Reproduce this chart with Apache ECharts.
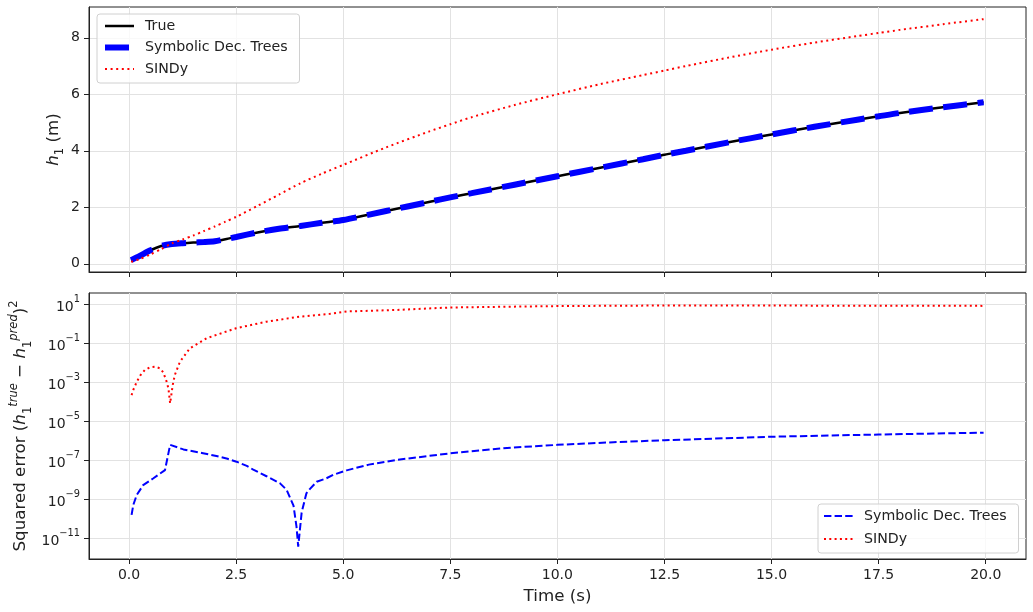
<!DOCTYPE html>
<html>
<head>
<meta charset="utf-8">
<script src="https://cdn.jsdelivr.net/npm/echarts@6/dist/echarts.min.js"></script>
<style>
html, body { margin: 0; padding: 0; background: #fff; }
#chart { width: 1033px; height: 612px; }
</style>
</head>
<body>
<div id="chart"></div>
<script>
// top panel: water level h1 (m)
const timeTop = [0.05, 0.25, 0.5, 0.75, 1.0, 1.25, 1.5, 1.75, 2.0, 2.25, 2.5, 3, 3.5, 4, 4.5, 5, 6, 7, 7.5, 8, 9, 10, 11, 12, 12.5, 13, 14, 15, 16, 17, 17.5, 18, 19, 19.95];
const hTrue = [0.13, 0.28, 0.48, 0.63, 0.70, 0.73, 0.75, 0.77, 0.80, 0.87, 0.95, 1.11, 1.24, 1.34, 1.45, 1.55, 1.87, 2.19, 2.35, 2.50, 2.80, 3.10, 3.40, 3.70, 3.86, 4.00, 4.30, 4.58, 4.85, 5.10, 5.22, 5.34, 5.54, 5.72];
const hSymbolic = [0.13, 0.28, 0.48, 0.63, 0.70, 0.73, 0.75, 0.77, 0.80, 0.87, 0.95, 1.11, 1.24, 1.34, 1.45, 1.55, 1.87, 2.19, 2.35, 2.50, 2.80, 3.10, 3.40, 3.70, 3.86, 4.00, 4.30, 4.58, 4.85, 5.10, 5.22, 5.34, 5.54, 5.72];
const hSindy = [0.07, 0.17, 0.33, 0.52, 0.72, 0.86, 1.00, 1.16, 1.32, 1.49, 1.66, 2.05, 2.45, 2.85, 3.19, 3.50, 4.12, 4.68, 4.94, 5.19, 5.62, 6.00, 6.36, 6.68, 6.84, 7.00, 7.30, 7.58, 7.83, 8.06, 8.17, 8.28, 8.48, 8.66];

// bottom panel: squared error
const timeErrSymbolic = [0.06, 0.1, 0.18, 0.33, 0.57, 0.84, 0.96, 1.27, 1.7, 2.04, 2.3, 2.51, 2.75, 2.9, 3.21, 3.52, 3.68, 3.84, 3.91, 3.95, 4.03, 4.14, 4.22, 4.38, 4.61, 4.77, 5.08, 5.6, 6.25, 7.5, 8.74, 10, 11.31, 12.5, 15, 17.5, 19.95];
const errSymbolic = [1.66e-10, 5.4e-10, 1.74e-9, 5.6e-9, 1.26e-8, 3.3e-8, 6.5e-7, 3.8e-7, 2.5e-7, 1.74e-7, 1.25e-7, 8.9e-8, 5.4e-8, 3.5e-8, 1.6e-8, 7.1e-9, 3.2e-9, 5.0e-10, 4.2e-11, 3.9e-12, 2.2e-10, 2.1e-9, 3.5e-9, 8.3e-9, 1.26e-8, 1.9e-8, 3.2e-8, 6.3e-8, 1.1e-7, 2.4e-7, 4.4e-7, 6.5e-7, 8.9e-7, 1.12e-6, 1.7e-6, 2.2e-6, 2.75e-6];
const timeErrSindy = [0.06, 0.1, 0.18, 0.26, 0.37, 0.49, 0.61, 0.72, 0.8, 0.88, 0.92, 0.96, 1.02, 1.07, 1.19, 1.42, 1.81, 2.5, 3.21, 3.99, 4.69, 5.08, 6.25, 7.5, 10, 12.5, 15, 17.5, 19.95];
const errSindy = [2.3e-4, 4.3e-4, 1.1e-3, 2.3e-3, 4.5e-3, 6.2e-3, 6.6e-3, 5.5e-3, 3.4e-3, 1.1e-3, 5.1e-4, 8.7e-5, 7.6e-4, 2.5e-3, 1.2e-2, 5.8e-2, 0.19, 0.62, 1.35, 2.45, 3.4, 4.5, 5.4, 7.2, 8.5, 9.1, 9.0, 8.9, 8.7];

const timeTicks = [0, 2.5, 5, 7.5, 10, 12.5, 15, 17.5, 20];
const hTicks = [0, 2, 4, 6, 8];
const errTicks = [1e-11, 1e-9, 1e-7, 1e-5, 1e-3, 1e-1, 1e1];

const legendNames = {
    errSym: 'Symbolic Dec. Trees',
    errSindy: 'SINDy'
};

function pairs(xs, ys) {
    return xs.map((x, i) => [x, ys[i]]);
}

const font = 'DejaVu Sans';
const frame = '#222';
const tickSize = 14;
const labelSize = 16.7;
const gridLine = { show: true, lineStyle: { color: '#e2e2e2', width: 1 } };
const hideSymbol = { color: 'rgba(0,0,0,0)', borderWidth: 0, opacity: 0 };

function timeAxis(idx) {
    return {
        type: 'value',
        gridIndex: idx,
        min: -0.934,
        max: 20.94,
        axisLine: { show: true, onZero: false, lineStyle: { color: frame } },
        axisTick: { show: true, length: 5, customValues: timeTicks, lineStyle: { color: frame } },
        axisLabel: {
            show: idx === 1,
            customValues: timeTicks,
            margin: 9,
            fontSize: tickSize,
            color: '#222',
            fontFamily: font,
            formatter: v => v.toFixed(1)
        },
        splitLine: gridLine,
        name: idx === 1 ? 'Time (s)' : '',
        nameLocation: 'middle',
        nameGap: 29,
        nameMoveOverlap: false,
        nameTextStyle: { fontSize: labelSize, color: '#222', fontFamily: font }
    };
}

function legendBox(extra) {
    return Object.assign({
        orient: 'vertical',
        itemWidth: 29,
        itemHeight: 14,
        padding: [5, 12, 7, 5],
        borderColor: '#d0d0d0',
        borderWidth: 1,
        borderRadius: 3,
        backgroundColor: 'rgba(255,255,255,0.8)',
        itemStyle: hideSymbol,
        textStyle: { fontSize: 14.2, color: '#222', fontFamily: font, padding: [0, 0, 0, 6] }
    }, extra);
}

const chart = echarts.init(document.getElementById('chart'));

const option = {
    animation: false,
    textStyle: { fontFamily: font },
    grid: [
        { left: 89, top: 7, right: 7, height: 265, show: true, borderColor: frame, borderWidth: 1, outerBoundsMode: 'none' },
        { left: 89, top: 293, right: 7, height: 266, show: true, borderColor: frame, borderWidth: 1, outerBoundsMode: 'none' }
    ],
    legend: [
        legendBox({
            left: 97,
            top: 14,
            itemGap: 7.5,
            data: [
                { name: 'True', itemStyle: hideSymbol, lineStyle: { color: '#000', width: 2.5, type: 'solid' } },
                { name: 'Symbolic Dec. Trees', itemStyle: hideSymbol, lineStyle: { color: '#0000ff', width: 6, type: [24, 10.5], cap: 'butt' } },
                { name: 'SINDy', itemStyle: hideSymbol, lineStyle: { color: '#ff0000', width: 2, type: [2, 3.6], cap: 'butt' } }
            ]
        }),
        legendBox({
            left: 818,
            top: 504,
            itemGap: 9,
            formatter: name => legendNames[name],
            data: [
                { name: 'errSym', itemStyle: hideSymbol, lineStyle: { color: '#0000ff', width: 2, type: [7.4, 3.2], cap: 'butt' } },
                { name: 'errSindy', itemStyle: hideSymbol, lineStyle: { color: '#ff0000', width: 2, type: [2, 3.3], cap: 'butt' } }
            ]
        })
    ],
    xAxis: [timeAxis(0), timeAxis(1)],
    yAxis: [
        {
            type: 'value',
            gridIndex: 0,
            min: -0.29,
            max: 9.09,
            axisLine: { show: true, onZero: false, lineStyle: { color: frame } },
            axisTick: { show: true, length: 5, customValues: hTicks, lineStyle: { color: frame } },
            axisLabel: { customValues: hTicks, margin: 9, fontSize: tickSize, color: '#222', fontFamily: font },
            splitLine: gridLine,
            name: '{i|h}{s|1}{n| (m)}',
            nameLocation: 'middle',
            nameGap: 23,
            nameMoveOverlap: false,
            nameTextStyle: {
                color: '#222',
                rich: {
                    n: { fontSize: labelSize, fontFamily: font, color: '#222', verticalAlign: 'middle', lineHeight: 24 },
                    i: { fontSize: labelSize, fontFamily: font, fontStyle: 'italic', color: '#222', verticalAlign: 'middle', lineHeight: 24 },
                    s: { fontSize: 11.5, fontFamily: font, color: '#222', verticalAlign: 'bottom', lineHeight: 11 }
                }
            }
        },
        {
            type: 'log',
            logBase: 10,
            gridIndex: 1,
            min: Math.pow(10, -12.04),
            max: Math.pow(10, 1.6),
            axisLine: { show: true, onZero: false, lineStyle: { color: frame } },
            axisTick: { show: true, length: 5, customValues: errTicks, lineStyle: { color: frame } },
            axisLabel: {
                customValues: errTicks,
                margin: 9,
                color: '#222',
                fontFamily: font,
                formatter: v => {
                    const e = Math.round(Math.log10(v));
                    return '{b|10}{e|' + (e < 0 ? '\u2212' + (-e) : e) + '}';
                },
                rich: {
                    b: { fontSize: tickSize, fontFamily: font, color: '#222', verticalAlign: 'bottom', lineHeight: 20 },
                    e: { fontSize: 9.8, fontFamily: font, color: '#222', verticalAlign: 'top', lineHeight: 12 }
                }
            },
            splitLine: gridLine,
            minorTick: { show: false },
            name: '{n|Squared error (}{i|h}{s|1}{p|true}{n| \u2212 }{i|h}{s|1}{p|pred}{n|)}{q|2}',
            nameLocation: 'middle',
            nameGap: 55,
            nameMoveOverlap: false,
            nameTextStyle: {
                color: '#222',
                rich: {
                    n: { fontSize: labelSize, fontFamily: font, color: '#222', verticalAlign: 'middle', lineHeight: 26 },
                    i: { fontSize: labelSize, fontFamily: font, fontStyle: 'italic', color: '#222', verticalAlign: 'middle', lineHeight: 26 },
                    s: { fontSize: 11.5, fontFamily: font, color: '#222', verticalAlign: 'bottom', lineHeight: 11 },
                    p: { fontSize: 11.5, fontFamily: font, fontStyle: 'italic', color: '#222', verticalAlign: 'top', lineHeight: 11 },
                    q: { fontSize: 11.5, fontFamily: font, color: '#222', verticalAlign: 'top', lineHeight: 11 }
                }
            }
        }
    ],
    series: [
        {
            name: 'True',
            type: 'line',
            xAxisIndex: 0,
            yAxisIndex: 0,
            symbol: 'none',
            smooth: 0.25,
            lineStyle: { color: '#000', width: 2.5 },
            itemStyle: { color: '#000' },
            data: pairs(timeTop, hTrue)
        },
        {
            name: 'Symbolic Dec. Trees',
            type: 'line',
            xAxisIndex: 0,
            yAxisIndex: 0,
            symbol: 'none',
            smooth: 0.25,
            lineStyle: { color: '#0000ff', width: 6, type: [24, 10.5], cap: 'butt' },
            itemStyle: { color: '#0000ff' },
            data: pairs(timeTop, hSymbolic)
        },
        {
            name: 'SINDy',
            type: 'line',
            xAxisIndex: 0,
            yAxisIndex: 0,
            symbol: 'none',
            smooth: 0.25,
            lineStyle: { color: '#ff0000', width: 2, type: [2, 3.6], cap: 'butt' },
            itemStyle: { color: '#ff0000' },
            data: pairs(timeTop, hSindy)
        },
        {
            name: 'errSym',
            type: 'line',
            xAxisIndex: 1,
            yAxisIndex: 1,
            symbol: 'none',
            smooth: false,
            lineStyle: { color: '#0000ff', width: 2, type: [7.4, 3.2], cap: 'butt' },
            itemStyle: { color: '#0000ff' },
            data: pairs(timeErrSymbolic, errSymbolic)
        },
        {
            name: 'errSindy',
            type: 'line',
            xAxisIndex: 1,
            yAxisIndex: 1,
            symbol: 'none',
            smooth: false,
            lineStyle: { color: '#ff0000', width: 2, type: [2, 3.3], cap: 'butt' },
            itemStyle: { color: '#ff0000' },
            data: pairs(timeErrSindy, errSindy)
        }
    ]
};

chart.setOption(option);
</script>
</body>
</html>
